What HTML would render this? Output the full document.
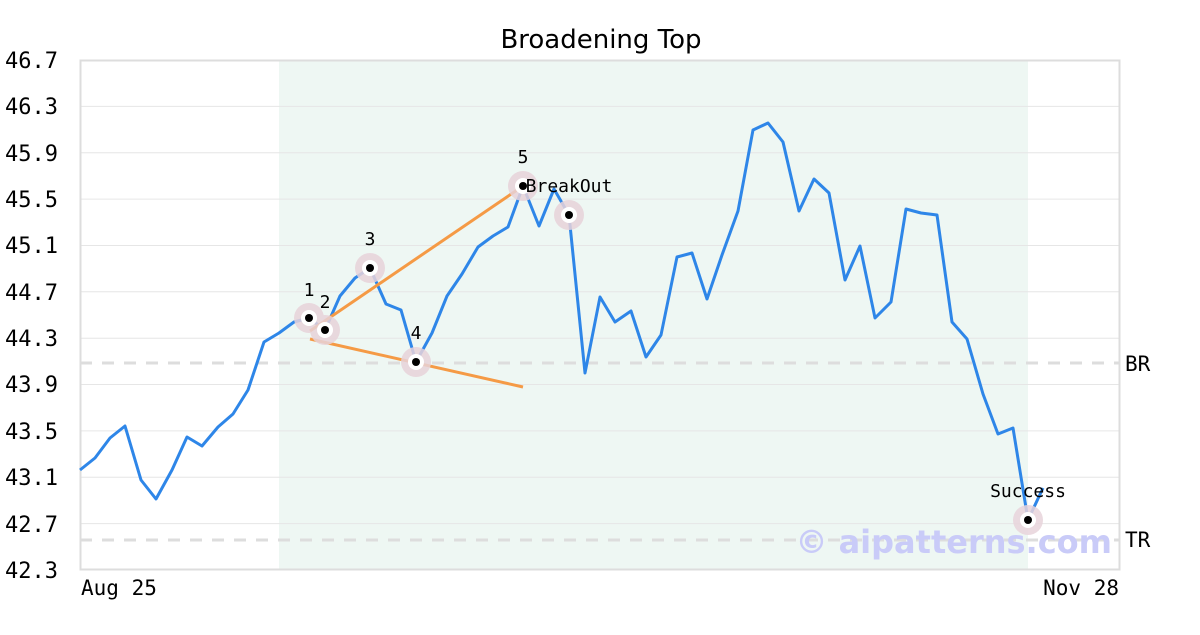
<!DOCTYPE html><html><head><style>body{margin:0;background:#fff}</style></head><body>
<svg width="1200" height="630" xmlns="http://www.w3.org/2000/svg" font-family="DejaVu Sans Mono, Liberation Mono, monospace">
<rect x="279" y="60" width="749" height="510" fill="#eef7f3"/>
<g stroke="#e6e6e6" stroke-width="1">
<line x1="80" x2="1120" y1="106.4" y2="106.4"/><line x1="80" x2="1120" y1="152.7" y2="152.7"/><line x1="80" x2="1120" y1="199.1" y2="199.1"/><line x1="80" x2="1120" y1="245.5" y2="245.5"/><line x1="80" x2="1120" y1="291.8" y2="291.8"/><line x1="80" x2="1120" y1="338.2" y2="338.2"/><line x1="80" x2="1120" y1="384.5" y2="384.5"/><line x1="80" x2="1120" y1="430.9" y2="430.9"/><line x1="80" x2="1120" y1="477.3" y2="477.3"/><line x1="80" x2="1120" y1="523.6" y2="523.6"/>
</g>
<g stroke="#dddddd" stroke-width="3" stroke-dasharray="12,10"><line x1="80" x2="1120" y1="363" y2="363"/><line x1="80" x2="1120" y1="540" y2="540"/></g>
<rect x="80.5" y="60.5" width="1039" height="509" fill="none" stroke="#dddddd" stroke-width="2"/>
<text x="1112" y="553" text-anchor="end" font-family="DejaVu Sans, sans-serif" font-weight="bold" font-size="32" fill="#c9cbf8">© aipatterns.com</text>
<polyline fill="none" stroke="#2e86e8" stroke-width="3" stroke-linejoin="round" points="80,470 95,458 110,438 125,426 141,480 156,499 172,470 187,437 202,446 218,427 233,414 248,390 264,342 279,333 294,322 309,318 325,330 340,296 355,278 370,268 386,304 401,310 416,362 432,333 447,296 462,274 478,247 493,236 508,227 523,186 539,226 554,189 569,215 585,373 600,297 615,322 631,311 646,357 661,335 677,257 692,253 707,299 722,255 738,211 753,130 768,123 783,142 799,211 814,179 829,193 845,280 860,246 875,318 891,302 906,209 921,213 937,215 952,322 967,339 983,394 998,434 1013,428 1028,520 1043,488"/>
<g stroke="#f59a45" stroke-width="3"><line x1="310" y1="331" x2="523" y2="186"/><line x1="310" y1="339" x2="523" y2="387"/></g>
<g>
<g fill="#e8d3da" opacity="0.85"><circle cx="309" cy="318" r="15"/><circle cx="325" cy="330" r="15"/><circle cx="370" cy="268" r="15"/><circle cx="416" cy="362" r="15"/><circle cx="523" cy="186" r="15"/><circle cx="569" cy="215" r="15"/><circle cx="1028" cy="520" r="15"/></g>
<g fill="#fff"><circle cx="309" cy="318" r="8"/><circle cx="325" cy="330" r="8"/><circle cx="370" cy="268" r="8"/><circle cx="416" cy="362" r="8"/><circle cx="523" cy="186" r="8"/><circle cx="569" cy="215" r="8"/><circle cx="1028" cy="520" r="8"/></g>
<g fill="#000"><circle cx="309" cy="318" r="4"/><circle cx="325" cy="330" r="4"/><circle cx="370" cy="268" r="4"/><circle cx="416" cy="362" r="4"/><circle cx="523" cy="186" r="4"/><circle cx="569" cy="215" r="4"/><circle cx="1028" cy="520" r="4"/></g>
</g>
<g font-size="18" fill="#000" text-anchor="middle">
<text x="309" y="296">1</text><text x="325" y="308">2</text><text x="370" y="245">3</text><text x="416" y="339">4</text><text x="523" y="163">5</text>
<text x="569" y="192">BreakOut</text><text x="1028" y="497">Success</text>
</g>
<g font-size="22" fill="#000" text-anchor="end">
<text x="58" y="68">46.7</text><text x="58" y="114">46.3</text><text x="58" y="161">45.9</text><text x="58" y="207">45.5</text><text x="58" y="253">45.1</text><text x="58" y="300">44.7</text><text x="58" y="346">44.3</text><text x="58" y="392">43.9</text><text x="58" y="439">43.5</text><text x="58" y="485">43.1</text><text x="58" y="532">42.7</text><text x="58" y="578">42.3</text>
</g>
<g font-size="21" fill="#000"><text x="81" y="595">Aug 25</text><text x="1119" y="595" text-anchor="end">Nov 28</text><text x="1125" y="371">BR</text><text x="1125" y="547">TR</text></g>
<text x="601" y="48" text-anchor="middle" font-family="DejaVu Sans, sans-serif" font-size="26" fill="#000">Broadening Top</text>
</svg>
</body></html>
